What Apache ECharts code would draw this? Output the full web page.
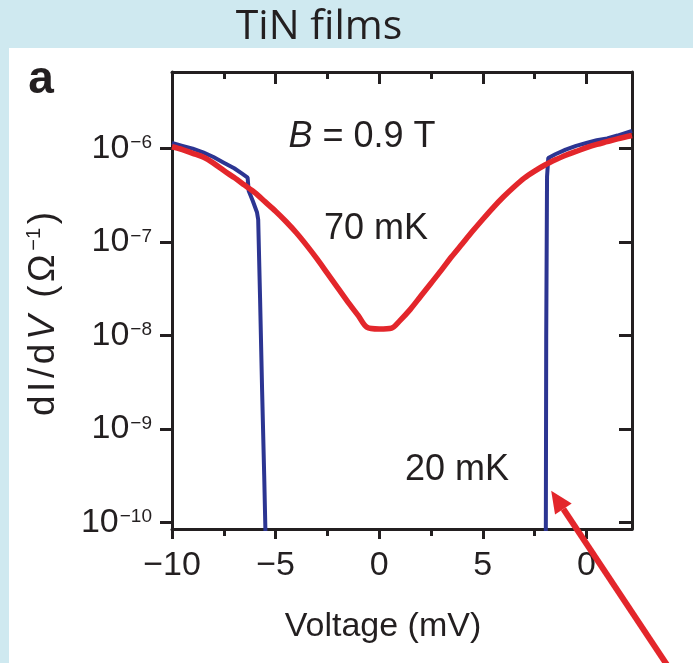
<!DOCTYPE html>
<html>
<head>
<meta charset="utf-8">
<script src="https://cdn.jsdelivr.net/npm/echarts@6/dist/echarts.min.js"></script>
<style>
  html, body { margin: 0; padding: 0; background: #cfe9f0; }
  #chart { width: 693px; height: 663px; }
</style>
</head>
<body>
<div id="chart"></div>
<script>
// Bias voltage (mV) and log10 of the differential conductance dI/dV (Ω⁻¹)
// 70 mK trace
const voltage70mK = [-10, -9.5, -9, -8.5, -8, -7.5, -7, -6.5, -6, -5.5, -5, -4.5, -4, -3.5, -3,
  -2.5, -2, -1.5, -1, -0.6, 0, 0.6, 1, 1.5, 2, 2.5, 3, 3.5, 4, 4.5, 5, 5.5, 6, 6.5, 7, 7.5, 8,
  8.5, 9, 9.5, 10, 10.5, 11, 11.5, 12.2];
const logG70mK = [-5.98, -6.01, -6.05, -6.09, -6.155, -6.235, -6.31, -6.39, -6.47, -6.57, -6.67,
  -6.78, -6.90, -7.035, -7.18, -7.335, -7.49, -7.645, -7.79, -7.91, -7.93, -7.92, -7.84, -7.72,
  -7.58, -7.44, -7.30, -7.155, -7.02, -6.885, -6.755, -6.63, -6.515, -6.41, -6.315, -6.24, -6.175,
  -6.12, -6.07, -6.03, -5.99, -5.955, -5.925, -5.895, -5.86];

// 20 mK trace; null marks the insulating gap where dI/dV is below the 1e-10 floor
const voltage20mK = [-10, -9.5, -9, -8.5, -8, -7.5, -7, -6.6, -6.35, -6.3, -6.1, -5.9, -5.84,
  -5.75, -5.65, -5.55, -5.47, 1, 8.04, 8.06, 8.1, 8.16, 8.5, 9, 9.5, 10, 10.5, 11, 11.5, 12.2];
const logG20mK = [-5.94, -5.97, -6.00, -6.04, -6.09, -6.15, -6.21, -6.27, -6.31, -6.45, -6.56,
  -6.68, -6.76, -7.6, -8.6, -9.5, -10.3, null, -10.3, -8.0, -6.3, -6.1, -6.06, -6.01, -5.97,
  -5.94, -5.91, -5.89, -5.86, -5.81];

// Axis ticks
const xMajorTicks = [-10, -5, 0, 5, 10];
const xMinorTicks = [-7.5, -2.5, 2.5, 7.5];
const xTickLabels = ['\u221210', '\u22125', '0', '5', '0'];
const yDecades = [-10, -9, -8, -7, -6];

// Annotation arrow tip, in data coordinates (mV, log10 dI/dV)
const arrowTip = [8.3, -9.66];

const ink = '#231f20';
const red = '#e3262b';
const blue = '#2c3592';
const sans = '"Liberation Sans", Arial, Helvetica, sans-serif';
const frame = { color: ink, width: 3 };

const pairs = (xs, ys) => xs.map((x, i) => [x, ys[i]]);

const xBase = {
  type: 'value', min: -10, max: 12.2, splitLine: { show: false },
  axisLine: { show: false, onZero: false, lineStyle: frame }
};
const yBase = {
  type: 'value', min: -10.07, max: -5.18, splitLine: { show: false },
  axisLine: { show: true, onZero: false, lineStyle: frame }
};

const chart = echarts.init(document.getElementById('chart'), null, { renderer: 'canvas' });

// letter-spaced y axis title
const yTitlePad = [0, 1.8, 0, 1.8];
const texts = [
  // page panel
  { type: 'rect', z: -10, shape: { x: 9, y: 48, width: 684, height: 615 }, style: { fill: '#ffffff' } },
  { type: 'text', x: 319, y: 27, style: { text: 'TiN films', font: '41px "Open Sans", sans-serif',
      fill: ink, align: 'center', verticalAlign: 'middle' } },
  { type: 'text', x: 41, y: 80, style: { text: 'a', font: 'bold 46px ' + sans,
      fill: ink, align: 'center', verticalAlign: 'middle' } },
  { type: 'text', x: 362, y: 137, style: { text: '{i|B}{n| = 0.9 T}', fill: ink, align: 'center',
      verticalAlign: 'middle',
      rich: { i: { fontSize: 36, fontStyle: 'italic', fontFamily: sans, fill: ink },
              n: { fontSize: 36, fontFamily: sans, fill: ink } } } },
  { type: 'text', x: 376, y: 229, style: { text: '70 mK', font: '36px ' + sans, fill: ink,
      align: 'center', verticalAlign: 'middle' } },
  { type: 'text', x: 457, y: 470, style: { text: '20 mK', font: '36px ' + sans, fill: ink,
      align: 'center', verticalAlign: 'middle' } },
  { type: 'text', x: 383, y: 627, style: { text: 'Voltage (mV)', font: '34px ' + sans, fill: ink,
      align: 'center', verticalAlign: 'middle' } },
  { type: 'text', x: 44, y: 314, rotation: Math.PI / 2,
    style: { text: '{n|d}{n|I}{n|/}{n|d}{i|V}{n| }{n|(}{n|\u03a9}{s|\u22121}{n|)}', fill: ink,
      align: 'center', verticalAlign: 'middle',
      rich: { n: { fontSize: 37, fontFamily: sans, fill: ink, lineHeight: 40, padding: yTitlePad },
              i: { fontSize: 37, fontFamily: sans, fontStyle: 'italic', fill: ink, lineHeight: 40, padding: yTitlePad },
              s: { fontSize: 20, fontFamily: sans, fill: ink, verticalAlign: 'top', lineHeight: 20, padding: yTitlePad } } } }
];

chart.setOption({
  animation: false,
  backgroundColor: '#cfe9f0',
  grid: { left: 172, right: 61, top: 72, bottom: 134, containLabel: false, outerBoundsMode: 'none' },
  xAxis: [
    Object.assign({}, xBase, {
      position: 'bottom',
      axisLine: { show: true, onZero: false, lineStyle: frame },
      axisTick: { show: true, inside: false, length: 10, customValues: xMajorTicks, lineStyle: frame },
      axisLabel: { show: true, customValues: xMajorTicks, margin: 20, color: ink, fontSize: 34,
        fontFamily: sans, formatter: v => { const k = xMajorTicks.indexOf(v); return k < 0 ? '' : xTickLabels[k]; } }
    }),
    Object.assign({}, xBase, {
      position: 'bottom',
      axisTick: { show: true, inside: false, length: 7, customValues: xMinorTicks, lineStyle: frame },
      axisLabel: { show: false }
    }),
    Object.assign({}, xBase, {
      position: 'top',
      axisLine: { show: true, onZero: false, lineStyle: frame },
      axisTick: { show: true, inside: true, length: 12, customValues: xMajorTicks, lineStyle: frame },
      axisLabel: { show: false }
    }),
    Object.assign({}, xBase, {
      position: 'top',
      axisTick: { show: true, inside: true, length: 7, customValues: xMinorTicks, lineStyle: frame },
      axisLabel: { show: false }
    })
  ],
  yAxis: [
    Object.assign({}, yBase, {
      position: 'left',
      axisTick: { show: true, inside: false, length: 12, customValues: yDecades, lineStyle: frame },
      axisLabel: { show: true, customValues: yDecades, margin: 20,
        formatter: v => '{b|10}{s|\u2212' + Math.abs(Math.round(v)) + '}',
        rich: { b: { fontSize: 34, fontFamily: sans, color: ink, lineHeight: 36 },
                s: { fontSize: 19, fontFamily: sans, color: ink, verticalAlign: 'top', lineHeight: 19,
                     padding: [3, 0, 0, 1] } } }
    }),
    Object.assign({}, yBase, {
      position: 'right',
      axisTick: { show: true, inside: true, length: 13, customValues: yDecades, lineStyle: frame },
      axisLabel: { show: false }
    })
  ],
  series: [
    { name: '20 mK', type: 'line', xAxisIndex: 0, yAxisIndex: 0, data: pairs(voltage20mK, logG20mK),
      symbol: 'none', connectNulls: false, z: 3, lineStyle: { color: blue, width: 4 } },
    { name: '70 mK', type: 'line', xAxisIndex: 0, yAxisIndex: 0, data: pairs(voltage70mK, logG70mK),
      symbol: 'none', smooth: 0.3, z: 4, lineStyle: { color: red, width: 5.5 } }
  ],
  graphic: texts
});

// Red arrow pointing at the 20 mK gap edge
const tip = chart.convertToPixel({ xAxisIndex: 0, yAxisIndex: 0 }, arrowTip);
const dir = [0.5537, 0.8329];
const nrm = [-dir[1], dir[0]];
const headLen = 22, headHalf = 10;
const base = [tip[0] + dir[0] * headLen, tip[1] + dir[1] * headLen];
const tail = [tip[0] + dir[0] * 240, tip[1] + dir[1] * 240];
chart.setOption({
  graphic: texts.concat([
    { type: 'line', z: 20, shape: { x1: base[0], y1: base[1], x2: tail[0], y2: tail[1] },
      style: { stroke: red, lineWidth: 6 } },
    { type: 'polygon', z: 20, shape: { points: [tip,
        [base[0] + nrm[0] * headHalf, base[1] + nrm[1] * headHalf],
        [base[0] - nrm[0] * headHalf, base[1] - nrm[1] * headHalf]] },
      style: { fill: red } }
  ])
});
</script>
</body>
</html>
